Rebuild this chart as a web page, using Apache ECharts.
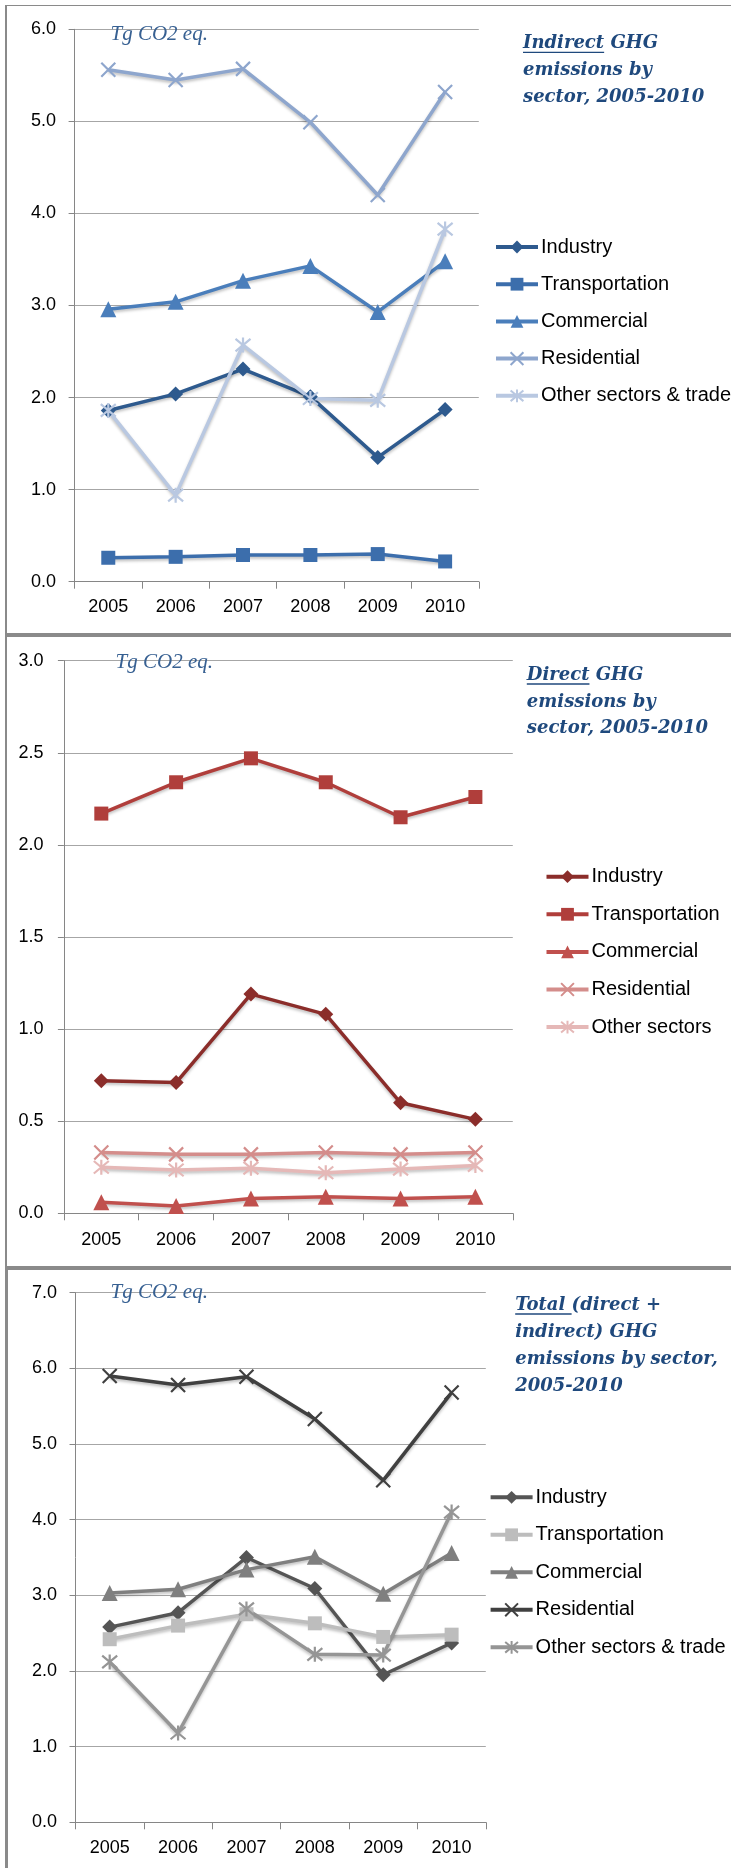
<!DOCTYPE html>
<html><head><meta charset="utf-8">
<script src="https://cdn.jsdelivr.net/npm/echarts@6/dist/echarts.min.js"></script>
<style>
html,body{margin:0;padding:0;background:#fff;}
#wrap{position:relative;width:731px;height:1868px;overflow:hidden;background:#fff;}
.c{position:absolute;left:0;top:0;width:731px;height:1868px;}
.b{position:absolute;background:#8a8a8a;}
</style></head><body>
<div id="wrap">
  <div class="b" style="left:5px;top:5px;width:726px;height:1px;"></div>
  <div class="b" style="left:5px;top:5px;width:2px;height:630px;"></div>
  <div class="b" style="left:5px;top:633px;width:726px;height:4px;"></div>
  <div class="b" style="left:5px;top:637px;width:2px;height:630px;"></div>
  <div class="b" style="left:5px;top:1266px;width:726px;height:4px;"></div>
  <div class="b" style="left:5px;top:1270px;width:3px;height:598px;"></div>
  <div id="c1" class="c"></div>
  <div id="c2" class="c"></div>
  <div id="c3" class="c"></div>
</div>
<script>
// ---------- data ----------
const years = ['2005', '2006', '2007', '2008', '2009', '2010'];
const sectorNames = ['Industry', 'Transportation', 'Commercial', 'Residential', 'Other sectors & trade'];
const directNames = ['Industry', 'Transportation', 'Commercial', 'Residential', 'Other sectors'];

const indIndustry    = [1.86, 2.04, 2.31, 2.01, 1.35, 1.87];
const indTransport   = [0.26, 0.27, 0.29, 0.29, 0.30, 0.22];
const indCommercial  = [2.96, 3.04, 3.27, 3.43, 2.93, 3.48];
const indResidential = [5.56, 5.45, 5.57, 4.99, 4.20, 5.32];
const indOther       = [1.86, 0.94, 2.57, 1.99, 1.97, 3.83];

const dirIndustry    = [0.72, 0.71, 1.19, 1.08, 0.60, 0.51];
const dirTransport   = [2.17, 2.34, 2.47, 2.34, 2.15, 2.26];
const dirCommercial  = [0.06, 0.04, 0.08, 0.09, 0.08, 0.09];
const dirResidential = [0.33, 0.32, 0.32, 0.33, 0.32, 0.33];
const dirOther       = [0.25, 0.235, 0.245, 0.22, 0.24, 0.26];

const totIndustry    = [2.58, 2.77, 3.50, 3.09, 1.95, 2.37];
const totTransport   = [2.42, 2.60, 2.75, 2.63, 2.45, 2.48];
const totCommercial  = [3.03, 3.08, 3.34, 3.51, 3.02, 3.56];
const totResidential = [5.90, 5.78, 5.89, 5.33, 4.52, 5.68];
const totOther       = [2.12, 1.18, 2.82, 2.22, 2.21, 4.10];

const indirectAxis = {min: 0, max: 6, interval: 1};
const directAxis   = {min: 0, max: 3, interval: 0.5};
const totalAxis    = {min: 0, max: 7, interval: 1};

const unitLabel = 'Tg CO2 eq.';
const title1 = [['Indirect', ' GHG'], ['', 'emissions by'], ['', 'sector, 2005-2010']];
const title2 = [['Direct', ' GHG'], ['', 'emissions by'], ['', 'sector, 2005-2010']];
const title3 = [['Total ', '(direct +'], ['', 'indirect) GHG'], ['', 'emissions by sector,'], ['', '2005-2010']];

// ---------- styling ----------
const X_PATH = 'path://M0,0L10,10M10,0L0,10';
const STAR_PATH = 'path://M0,0L10,10M10,0L0,10M5,-1L5,11';
const symbols = ['diamond', 'rect', 'triangle', X_PATH, STAR_PATH];
const symSizes = [15, 14, 16, 14, 15];

const TITLE_FONT = 'italic bold 18px "DejaVu Serif"';
const UNIT_FONT = 'italic 21px "Liberation Serif"';
const TICK_FONT = 'Liberation Sans';
const measure = (function(){
  const cv = document.createElement('canvas').getContext('2d');
  return function(txt, font){ cv.font = font; return cv.measureText(txt).width; };
})();

function buildSeries(names, datas, colors) {
  return names.map((n, i) => ({
    name: n,
    type: 'line',
    data: datas[i],
    symbol: symbols[i],
    symbolSize: symSizes[i],
    showAllSymbol: true,
    lineStyle: {width: 3.5, color: colors[i], shadowColor: 'rgba(0,0,0,0.25)', shadowBlur: 3, shadowOffsetY: 2},
    itemStyle: {color: colors[i], borderColor: colors[i], borderWidth: i >= 3 ? 2.2 : 0},
    emphasis: {disabled: true}
  }));
}

function buildTexts(lines, x, y0, dy, ux, uy) {
  const g = [];
  lines.forEach((ln, k) => {
    const full = ln[0] + ln[1];
    const y = y0 + k * dy;
    g.push({type: 'text', x: x, y: y, z: 100,
      style: {text: full, font: TITLE_FONT, fill: '#1F497D', textVerticalAlign: 'middle', verticalAlign: 'middle'}});
    if (ln[0]) {
      const w = measure(ln[0], TITLE_FONT);
      g.push({type: 'line', z: 100, shape: {x1: x, y1: y + 8.5, x2: x + w, y2: y + 8.5},
        style: {stroke: '#1F497D', lineWidth: 1.3}});
    }
  });
  g.push({type: 'text', x: ux, y: uy, z: 100,
    style: {text: unitLabel, font: UNIT_FONT, fill: '#376092', textVerticalAlign: 'middle', verticalAlign: 'middle'}});
  return g;
}

function makeOption(p) {
  return {
    animation: false,
    backgroundColor: 'transparent',
    grid: {left: p.grid[0], top: p.grid[1], width: p.grid[2], height: p.grid[3], containLabel: false},
    xAxis: {
      type: 'category', data: years, boundaryGap: true,
      axisLine: {lineStyle: {color: '#868686', width: 1}},
      axisTick: {show: true, length: 7, lineStyle: {color: '#868686'}},
      axisLabel: {fontFamily: TICK_FONT, fontSize: 18, color: '#000', margin: p.xMargin}
    },
    yAxis: {
      type: 'value', min: p.axis.min, max: p.axis.max, interval: p.axis.interval,
      axisLine: {show: true, lineStyle: {color: '#868686', width: 1}},
      axisTick: {show: true, length: 6, lineStyle: {color: '#868686'}},
      axisLabel: {fontFamily: TICK_FONT, fontSize: 18, color: '#000', margin: p.yMargin,
        formatter: v => v.toFixed(1)},
      splitLine: {lineStyle: {color: '#A6A6A6', width: 1}}
    },
    legend: {
      orient: 'vertical', left: p.legend[0], top: p.legend[1], padding: 0,
      itemWidth: 42, itemHeight: 16, itemGap: p.legend[2],
      lineStyle: {width: 4},
      textStyle: {fontFamily: 'Liberation Sans', fontSize: 20, color: '#000', lineHeight: 20, padding: [0, 0, 0, -2]},
      selectedMode: false
    },
    graphic: p.graphic,
    series: p.series
  };
}

const c1 = echarts.init(document.getElementById('c1'), null, {renderer: 'canvas'});
c1.setOption(makeOption({
  grid: [74.6, 29.3, 404.2, 552.4], axis: indirectAxis, xMargin: 16, yMargin: 18.5,
  legend: [494, 237, 17.2],
  graphic: buildTexts(title1, 523, 43.8, 26.7, 110.5, 34),
  series: buildSeries(sectorNames, [indIndustry, indTransport, indCommercial, indResidential, indOther],
    ['#2E5A8E', '#3C6EAC', '#4A7EBB', '#8EA6CD', '#B9C8E1'])
}));

const c2 = echarts.init(document.getElementById('c2'), null, {renderer: 'canvas'});
c2.setOption(makeOption({
  grid: [63.9, 660.7, 448.9, 552.6], axis: directAxis, xMargin: 18, yMargin: 20.5,
  legend: [544.5, 866.7, 17.6],
  graphic: buildTexts(title2, 526.8, 675.5, 26.6, 115.6, 662.5),
  series: buildSeries(directNames, [dirIndustry, dirTransport, dirCommercial, dirResidential, dirOther],
    ['#8B2D2A', '#B03E3B', '#C0504D', '#D48D8B', '#E5B8B7'])
}));

const c3 = echarts.init(document.getElementById('c3'), null, {renderer: 'canvas'});
c3.setOption(makeOption({
  grid: [75.5, 1292.7, 410.3, 529.6], axis: totalAxis, xMargin: 17, yMargin: 18.5,
  legend: [488.6, 1487.3, 17.5],
  graphic: buildTexts(title3, 515.2, 1305.5, 26.9, 110.5, 1292.5),
  series: buildSeries(sectorNames, [totIndustry, totTransport, totCommercial, totResidential, totOther],
    ['#555555', '#BDBDBD', '#7F7F7F', '#404040', '#959595'])
}));
</script>
</body></html>
